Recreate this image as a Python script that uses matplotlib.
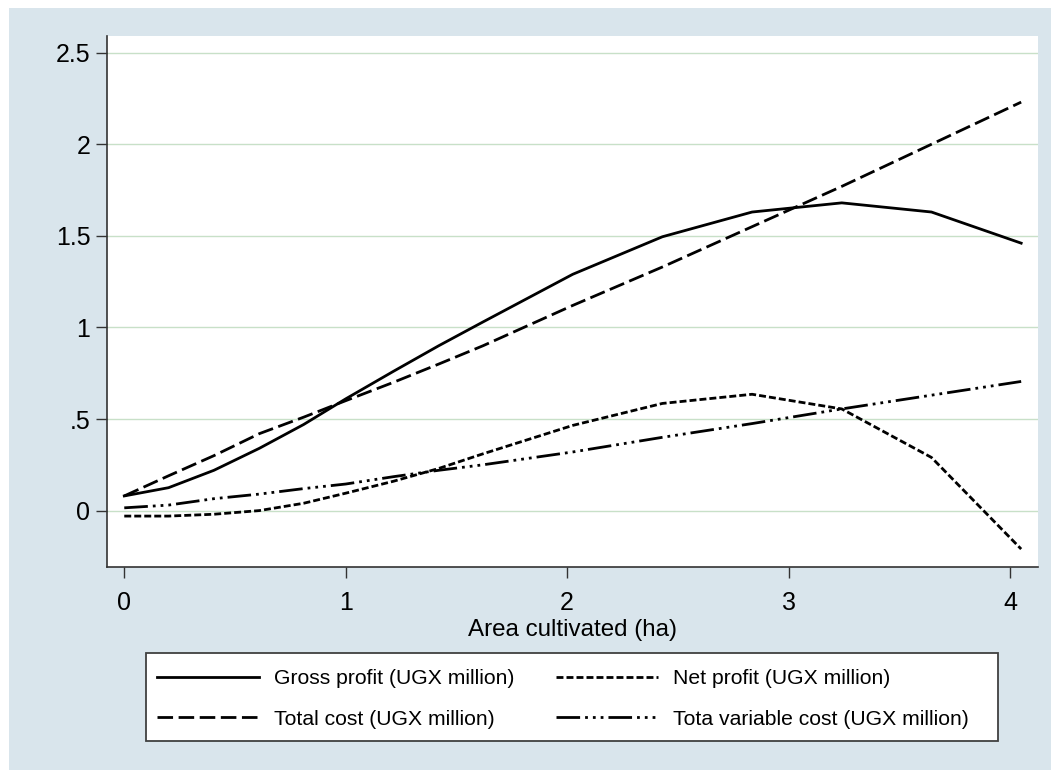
import matplotlib
matplotlib.use("Agg")
import matplotlib.pyplot as plt
from matplotlib.patches import Rectangle

# ---- data ----
area = [0, 0.2, 0.405, 0.61, 0.81, 1.0, 1.215, 1.42, 1.62, 2.025, 2.43, 2.835, 3.24, 3.645, 4.05]
gross_profit = [0.08, 0.125, 0.22, 0.34, 0.47, 0.61, 0.76, 0.90, 1.03, 1.29, 1.495, 1.63, 1.68, 1.63, 1.46]
net_profit = [-0.03, -0.03, -0.02, 0.0, 0.04, 0.095, 0.16, 0.23, 0.31, 0.465, 0.585, 0.635, 0.555, 0.29, -0.21]
total_cost = [0.08, 0.19, 0.30, 0.42, 0.51, 0.60, 0.70, 0.80, 0.90, 1.12, 1.33, 1.55, 1.77, 2.00, 2.23]
total_var_cost = [0.015, 0.03, 0.065, 0.09, 0.12, 0.145, 0.185, 0.22, 0.25, 0.32, 0.40, 0.475, 0.555, 0.63, 0.705]

labels = ["Gross profit (UGX million)", "Net profit (UGX million)",
          "Total cost (UGX million)", "Tota variable cost (UGX million)"]
xticks = [0, 1, 2, 3, 4]
yticks = [0, 0.5, 1, 1.5, 2, 2.5]
yticklabels = ["0", ".5", "1", "1.5", "2", "2.5"]
xlabel = "Area cultivated (ha)"

plt.rcParams['font.family'] = ['Liberation Sans', 'DejaVu Sans']

W, H = 1051, 770
fig = plt.figure(figsize=(W / 100, H / 100), dpi=100, facecolor='white')
bg = '#d9e5ec'
fig.patches.append(Rectangle((9 / W, -0.05), 1.2, 1.05 - 8 / H, transform=fig.transFigure,
                             facecolor=bg, edgecolor='none', zorder=-10))

left, right, top, bottom = 107, 1038, 36, 567
ax = fig.add_axes([left / W, 1 - bottom / H, (right - left) / W, (bottom - top) / H])
ax.set_facecolor('white')

lw = 2.0
l1, = ax.plot(area, gross_profit, color='black', lw=lw, linestyle='-')
l3, = ax.plot(area, total_cost, color='black', lw=lw, linestyle=(0, (5.6, 2.0)))
l2, = ax.plot(area, net_profit, color='black', lw=lw, linestyle=(0, (2.5, 1.1)))
l4, = ax.plot(area, total_var_cost, color='black', lw=lw,
              linestyle=(0, (8.5, 1.8, 1.0, 1.8, 1.0, 1.8, 1.0, 1.8)))

ax.set_xlim(-0.078, 4.126)
ax.set_ylim(-0.308, 2.591)
ax.set_xticks(xticks)
ax.set_xticklabels([str(t) for t in xticks])
ax.set_yticks(yticks)
ax.set_yticklabels(yticklabels)

for s in ['top', 'right']:
    ax.spines[s].set_visible(False)
for s in ['left', 'bottom']:
    ax.spines[s].set_color('#333333')
    ax.spines[s].set_linewidth(1.2)

ax.tick_params(axis='both', direction='out', length=8, width=1.0, color='#333333',
               labelsize=18, labelcolor='black')
ax.tick_params(axis='y', pad=4)
ax.tick_params(axis='x', pad=9.5)
ax.grid(axis='y', color='#c8e0c8', linewidth=1.0)
ax.set_axisbelow(True)
ax.set_xlabel(xlabel, fontsize=17.4, labelpad=2.5)

# legend frame drawn as a plain box
fig.patches.append(Rectangle((146 / W, 1 - 741 / H), (998 - 146) / W, (741 - 653) / H,
                             transform=fig.transFigure, facecolor='white',
                             edgecolor='#404040', linewidth=1.3, zorder=1))
leg = fig.legend([l1, l3, l2, l4], [labels[0], labels[2], labels[1], labels[3]],
                 ncol=2, loc='center', bbox_to_anchor=(563 / W, 1 - 699 / H),
                 fontsize=15.2, handlelength=4.8, handletextpad=0.72, columnspacing=2.0,
                 labelspacing=1.0, borderpad=0.0, frameon=False)
leg.set_zorder(5)

fig.savefig('out.png', dpi=100, facecolor=fig.get_facecolor())
